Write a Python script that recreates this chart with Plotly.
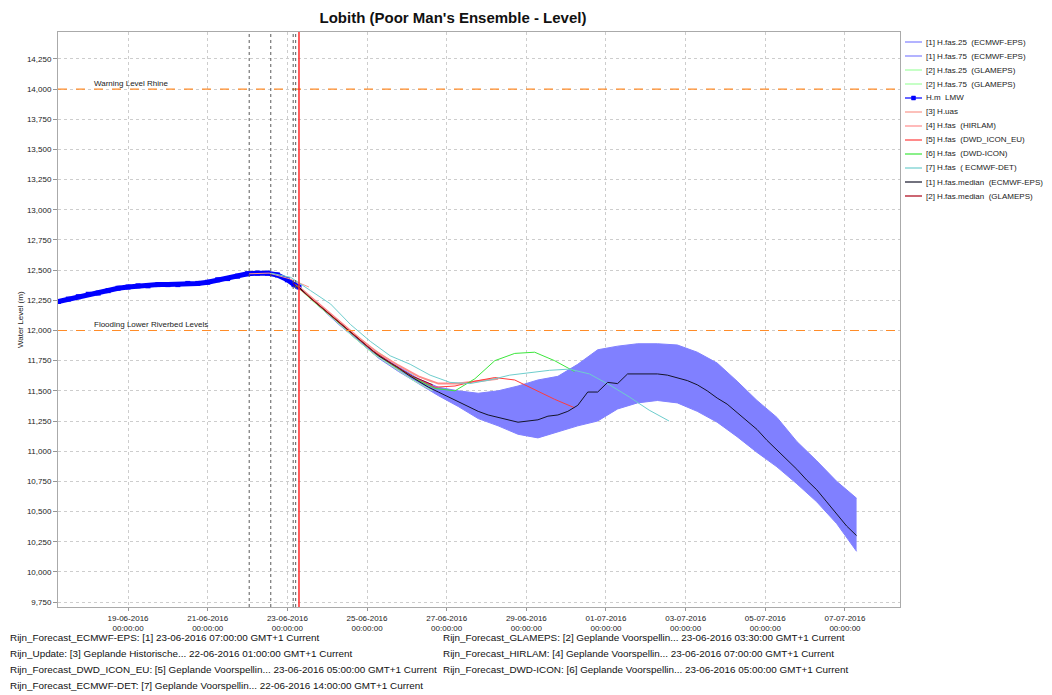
import plotly.graph_objects as go
import pandas as pd

# ---------------- data ----------------
obs_times = ["2016-06-17 06:00", "2016-06-17 12:00", "2016-06-17 18:00", "2016-06-18 00:00",
             "2016-06-18 06:00", "2016-06-18 12:00", "2016-06-18 18:00", "2016-06-19 00:00",
             "2016-06-19 06:00", "2016-06-19 12:00", "2016-06-19 18:00", "2016-06-20 00:00",
             "2016-06-20 06:00", "2016-06-20 12:00", "2016-06-20 18:00", "2016-06-21 00:00",
             "2016-06-21 06:00", "2016-06-21 12:00", "2016-06-21 18:00", "2016-06-22 00:00",
             "2016-06-22 06:00", "2016-06-22 12:00", "2016-06-22 18:00", "2016-06-23 00:00",
             "2016-06-23 04:00", "2016-06-23 07:00"]
obs_lmw = [12.24, 12.26, 12.28, 12.30, 12.31, 12.33, 12.35, 12.36,
           12.37, 12.37, 12.38, 12.38, 12.38, 12.39, 12.39, 12.40,
           12.42, 12.43, 12.45, 12.47, 12.475, 12.475, 12.46, 12.42,
           12.38, 12.36]

# ECMWF-EPS percentiles, 12-hourly from 23-06-2016 07:00
eps_start = "2016-06-23 07:00"
eps_p25 = [12.36, 12.20, 12.05, 11.91, 11.77, 11.66, 11.56, 11.46, 11.37, 11.27,
           11.21, 11.14, 11.11, 11.16, 11.21, 11.25, 11.35, 11.40, 11.42, 11.40,
           11.33, 11.24, 11.12, 10.99, 10.87, 10.73, 10.58, 10.40, 10.17]
eps_p75 = [12.36, 12.22, 12.08, 11.94, 11.80, 11.70, 11.60, 11.53, 11.50, 11.48,
           11.50, 11.54, 11.59, 11.62, 11.72, 11.84, 11.87, 11.89, 11.89, 11.88,
           11.82, 11.73, 11.58, 11.42, 11.28, 11.08, 10.92, 10.75, 10.61]
# ECMWF-EPS median, 6-hourly from 23-06-2016 07:00
eps_median = [12.36, 12.28, 12.21, 12.14, 12.07, 12.00, 11.93, 11.86, 11.79, 11.74,
              11.69, 11.63, 11.58, 11.53, 11.49, 11.45, 11.41, 11.37, 11.33, 11.30,
              11.28, 11.26, 11.24, 11.25, 11.26, 11.29, 11.30, 11.33, 11.38, 11.49,
              11.49, 11.57, 11.56, 11.64, 11.64, 11.64, 11.64, 11.63, 11.61, 11.585,
              11.55, 11.50, 11.44, 11.39, 11.32, 11.25, 11.18, 11.09, 11.01, 10.93,
              10.85, 10.76, 10.68, 10.58, 10.48, 10.38, 10.30]

# GLAMEPS, 12-hourly from 23-06-2016 03:30
glam_start = "2016-06-23 03:30"
glam_p25 = [12.39, 12.24, 12.10, 11.95, 11.81, 11.70, 11.59, 11.50]
glam_p75 = [12.39, 12.26, 12.12, 11.98, 11.85, 11.74, 11.64, 11.57]
glam_median = [12.39, 12.25, 12.11, 11.97, 11.83, 11.72, 11.62, 11.55]

# Update (H.uas), 12-hourly from 22-06-2016 01:00
uas_start = "2016-06-22 01:00"
uas = [12.47, 12.475, 12.43, 12.36]

# HIRLAM, 12-hourly from 23-06-2016 07:00
hirlam_start = "2016-06-23 07:00"
hirlam = [12.36, 12.22, 12.08, 11.94, 11.81, 11.71, 11.62, 11.56, 11.56, 11.58, 11.60]

# DWD_ICON_EU and DWD-ICON, 12-hourly from 23-06-2016 05:00
dwd_start = "2016-06-23 05:00"
dwd_icon_eu = [12.38, 12.23, 12.09, 11.95, 11.81, 11.70, 11.60, 11.53, 11.54, 11.58,
               11.61, 11.59, 11.51, 11.43, 11.36]
dwd_icon = [12.38, 12.23, 12.09, 11.95, 11.81, 11.70, 11.60, 11.52, 11.50, 11.60,
            11.75, 11.81, 11.82, 11.75, 11.66]

# ECMWF-DET, 12-hourly from 22-06-2016 14:00
det_start = "2016-06-22 14:00"
ecmwf_det = [12.475, 12.44, 12.33, 12.22, 12.05, 11.91, 11.79, 11.72, 11.63, 11.57,
             11.56, 11.59, 11.63, 11.65, 11.67, 11.68, 11.64, 11.55, 11.45, 11.34, 11.25]

# reference levels
levels = [14.0, 12.0]
level_names = ["Warning Level Rhine", "Flooding Lower Riverbed Levels"]

# forecast times (vertical markers)
forecast_times = ["2016-06-22 01:00", "2016-06-22 14:00", "2016-06-23 03:30", "2016-06-23 05:00"]
current_time = "2016-06-23 07:00"

y_ticks = [9.75, 10.0, 10.25, 10.5, 10.75, 11.0, 11.25, 11.5, 11.75, 12.0,
           12.25, 12.5, 12.75, 13.0, 13.25, 13.5, 13.75, 14.0, 14.25]
x_ticks = ["2016-06-19", "2016-06-21", "2016-06-23", "2016-06-25", "2016-06-27",
           "2016-06-29", "2016-07-01", "2016-07-03", "2016-07-05", "2016-07-07"]

footer = [
    ("Rijn_Forecast_ECMWF-EPS: [1] 23-06-2016 07:00:00 GMT+1 Current",
     "Rijn_Forecast_GLAMEPS: [2] Geplande Voorspellin... 23-06-2016 03:30:00 GMT+1 Current"),
    ("Rijn_Update: [3] Geplande Historische... 22-06-2016 01:00:00 GMT+1 Current",
     "Rijn_Forecast_HIRLAM: [4] Geplande Voorspellin... 23-06-2016 07:00:00 GMT+1 Current"),
    ("Rijn_Forecast_DWD_ICON_EU: [5] Geplande Voorspellin... 23-06-2016 05:00:00 GMT+1 Current",
     "Rijn_Forecast_DWD-ICON: [6] Geplande Voorspellin... 23-06-2016 05:00:00 GMT+1 Current"),
    ("Rijn_Forecast_ECMWF-DET: [7] Geplande Voorspellin... 22-06-2016 14:00:00 GMT+1 Current", None),
]


def times(start, n, freq="12h"):
    return pd.date_range(start, periods=n, freq=freq)


# ---------------- figure ----------------
FONT = "Liberation Sans"
OFF = 8                      # page offset of the figure inside the browser window
W, H = 1052 - OFF, 695 - OFF
ML, MR, MT, MB = 58 - OFF, 152, 32 - OFF, 88
PW, PH = W - ML - MR, H - MT - MB


def px_x(px):                # window pixel -> paper x
    return (px - OFF - ML) / PW


def px_y(py):                # window pixel -> paper y
    return (H - MB - (py - OFF)) / PH


fig = go.Figure()

band_col = "rgb(128,128,255)"
col = {
    "eps": band_col,
    "glam": "rgb(160,255,160)",
    "obs": "rgb(0,0,255)",
    "uas": "rgb(250,150,140)",
    "hirlam": "rgb(255,140,140)",
    "icon_eu": "rgb(255,60,60)",
    "icon": "rgb(60,230,60)",
    "det": "rgb(110,205,205)",
    "eps_med": "rgb(20,20,40)",
    "glam_med": "rgb(170,0,20)",
}

fig.add_trace(go.Scatter(x=times(eps_start, len(eps_p25)), y=eps_p25, mode="lines",
                         line=dict(color=col["eps"], width=1), name="[1] H.fas.25  (ECMWF-EPS)"))
fig.add_trace(go.Scatter(x=times(eps_start, len(eps_p75)), y=eps_p75, mode="lines",
                         line=dict(color=col["eps"], width=1), fill="tonexty", fillcolor=band_col,
                         name="[1] H.fas.75  (ECMWF-EPS)"))
fig.add_trace(go.Scatter(x=times(glam_start, len(glam_p25)), y=glam_p25, mode="lines",
                         line=dict(color=col["glam"], width=1), name="[2] H.fas.25  (GLAMEPS)"))
fig.add_trace(go.Scatter(x=times(glam_start, len(glam_p75)), y=glam_p75, mode="lines",
                         line=dict(color=col["glam"], width=1), name="[2] H.fas.75  (GLAMEPS)"))
fig.add_trace(go.Scatter(x=pd.to_datetime(obs_times), y=obs_lmw, mode="lines+markers",
                         line=dict(color=col["obs"], width=5),
                         marker=dict(color=col["obs"], size=5, symbol="square"),
                         name="H.m  LMW"))
fig.add_trace(go.Scatter(x=times(uas_start, len(uas)), y=uas, mode="lines",
                         line=dict(color=col["uas"], width=1), name="[3] H.uas"))
fig.add_trace(go.Scatter(x=times(hirlam_start, len(hirlam)), y=hirlam, mode="lines",
                         line=dict(color=col["hirlam"], width=2), name="[4] H.fas  (HIRLAM)"))
fig.add_trace(go.Scatter(x=times(dwd_start, len(dwd_icon_eu)), y=dwd_icon_eu, mode="lines",
                         line=dict(color=col["icon_eu"], width=1), name="[5] H.fas  (DWD_ICON_EU)"))
fig.add_trace(go.Scatter(x=times(dwd_start, len(dwd_icon)), y=dwd_icon, mode="lines",
                         line=dict(color=col["icon"], width=1), name="[6] H.fas  (DWD-ICON)"))
fig.add_trace(go.Scatter(x=times(det_start, len(ecmwf_det)), y=ecmwf_det, mode="lines",
                         line=dict(color=col["det"], width=1), name="[7] H.fas  ( ECMWF-DET)"))
fig.add_trace(go.Scatter(x=times(eps_start, len(eps_median), "6h"), y=eps_median, mode="lines",
                         line=dict(color=col["eps_med"], width=1), name="[1] H.fas.median  (ECMWF-EPS)"))
fig.add_trace(go.Scatter(x=times(glam_start, len(glam_median)), y=glam_median, mode="lines",
                         line=dict(color=col["glam_med"], width=1), name="[2] H.fas.median  (GLAMEPS)"))

# compact legend (beside the plot, 14 px per entry)
for i, tr in enumerate(fig.data):
    py = 42 + 14 * i
    c = tr.line.color
    fig.add_shape(type="line", xref="paper", yref="paper",
                  x0=px_x(905), x1=px_x(922), y0=px_y(py), y1=px_y(py),
                  line=dict(color=c, width=1.2))
    if tr.mode == "lines+markers":
        fig.add_shape(type="rect", xref="paper", yref="paper",
                      x0=px_x(911.5), x1=px_x(915.5), y0=px_y(py - 2), y1=px_y(py + 2),
                      line=dict(color=c, width=0.5), fillcolor=c)
    fig.add_annotation(x=px_x(924), xref="paper", y=px_y(py), yref="paper",
                       text=tr.name.replace("  ", " \u00a0"), showarrow=False,
                       xanchor="left", yanchor="middle",
                       font=dict(family=FONT, size=8, color="#222"))

# reference levels
for lv, nm in zip(levels, level_names):
    fig.add_hline(y=lv, line=dict(color="rgb(255,140,40)", width=1.2, dash="dash"), layer="above")
    fig.add_annotation(x=px_x(92), xref="paper", y=lv, yref="y", text=nm, showarrow=False,
                       xanchor="left", yanchor="bottom", yshift=-1,
                       font=dict(family=FONT, size=8, color="#222"))

# forecast-time markers
for t in forecast_times:
    fig.add_vline(x=pd.Timestamp(t), line=dict(color="rgb(90,90,90)", width=1, dash="dot"),
                  layer="above")
fig.add_vline(x=pd.Timestamp(current_time), line=dict(color="rgb(255,40,40)", width=1.5), layer="above")

# footer
for (left, right), py in zip(footer, [637, 653, 669, 685]):
    fig.add_annotation(x=px_x(OFF), xref="paper", y=px_y(py), yref="paper", text=left,
                       showarrow=False, xanchor="left", yanchor="middle",
                       font=dict(family=FONT, size=9.9, color="#111"))
    if right:
        fig.add_annotation(x=px_x(441), xref="paper", y=px_y(py), yref="paper", text=right,
                           showarrow=False, xanchor="left", yanchor="middle",
                           font=dict(family=FONT, size=9.9, color="#111"))

# y-axis title
fig.add_annotation(x=px_x(14), xref="paper", y=0.5, yref="paper", text="Water Level (m)",
                   textangle=-90, showarrow=False, font=dict(family=FONT, size=8, color="#222"))

fig.update_layout(
    width=W, height=H,
    margin=dict(l=ML, r=MR, t=MT, b=MB, autoexpand=False),
    paper_bgcolor="white", plot_bgcolor="white",
    title=dict(text="<b>Lobith (Poor Man's Ensemble - Level)</b>", x=(453 - OFF) / W,
               xref="container", y=1 - (18 - OFF) / H, yref="container",
               xanchor="center", yanchor="middle",
               font=dict(family=FONT, size=15, color="#111")),
    font=dict(family=FONT, size=8, color="#222"),
    showlegend=False,
)
fig.update_xaxes(
    range=[pd.Timestamp("2016-06-17 05:47"), pd.Timestamp("2016-07-08 09:10")],
    tickvals=pd.to_datetime(x_ticks),
    ticktext=[pd.Timestamp(t).strftime("%d-%m-%Y") + "<br>00:00:00" for t in x_ticks],
    showgrid=True, gridcolor="rgb(205,205,205)", griddash="dot", gridwidth=1,
    showline=True, linecolor="rgb(170,170,170)", mirror=True, linewidth=1,
    ticks="outside", ticklen=3, tickcolor="rgb(150,150,150)", zeroline=False,
    tickfont=dict(family=FONT, size=8, color="#222"),
)
fig.update_yaxes(
    range=[9.709, 14.473],
    tickvals=y_ticks,
    ticktext=[f"{v:.3f}".replace(".", ",") for v in y_ticks],
    showgrid=True, gridcolor="rgb(205,205,205)", griddash="dot", gridwidth=1,
    showline=True, linecolor="rgb(170,170,170)", mirror=True, linewidth=1,
    ticks="outside", ticklen=4, tickcolor="rgb(150,150,150)", zeroline=False,
    tickfont=dict(family=FONT, size=8, color="#222"),
)

fig.write_html("out.html")
